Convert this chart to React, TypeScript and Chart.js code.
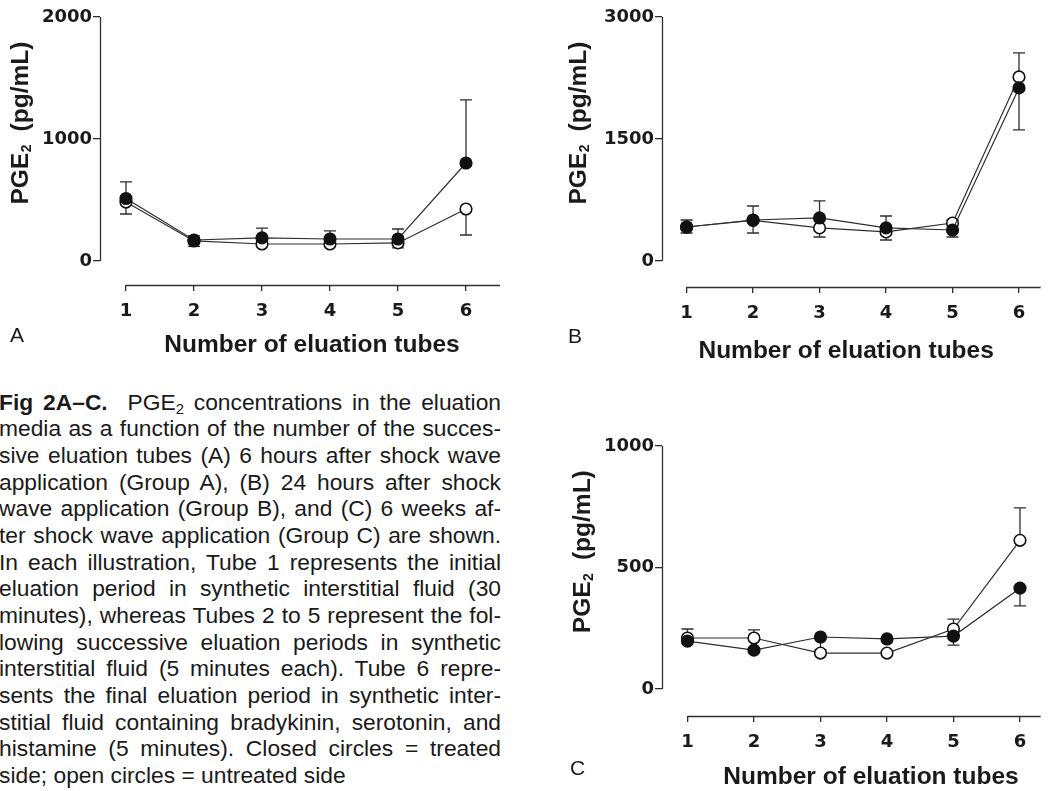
import React, { useEffect, useRef } from "react";
import { Chart, registerables } from "chart.js";
Chart.register(...registerables);

// ---------- shared ----------
const tubeNumbers = [1, 2, 3, 4, 5, 6];
const tubeLabels = ["1", "2", "3", "4", "5", "6"];
const xAxisTitle = "Number of eluation tubes";

// ---------- Panel A (6 hours) ----------
const aTicks = [0, 1000, 2000];
const aTreated = [512, 172, 189, 180, 180, 803];
const aTreatedUp = [648, 205, 270, 246, 262, 1320];
const aTreatedDown = [null, null, null, null, null, null];
const aUntreated = [483, 164, 139, 139, 148, 426];
const aUntreatedUp = [null, null, null, null, null, null];
const aUntreatedDown = [385, 120, null, null, 107, 213];

// ---------- Panel B (24 hours) ----------
const bTicks = [0, 1500, 3000];
const bTreated = [418, 504, 529, 406, 381, 2128];
const bTreatedUp = [504, 676, 738, 553, null, null];
const bTreatedDown = [344, null, null, null, 295, 1611];
const bUntreated = [418, 500, 406, 357, 467, 2263];
const bUntreatedUp = [null, null, null, null, 504, 2558];
const bUntreatedDown = [null, 344, 295, 258, null, null];

// ---------- Panel C (6 weeks) ----------
const cTicks = [0, 500, 1000];
const cTreated = [197, 160, 214, 206, 218, 415];
const cTreatedUp = [null, null, null, null, null, null];
const cTreatedDown = [null, null, 162, null, 181, 342];
const cUntreated = [210, 210, 148, 148, 247, 612];
const cUntreatedUp = [247, 243, null, null, 288, 745];
const cUntreatedDown = [null, null, null, null, null, null];

const captionLines = [
  "media as a function of the number of the succes-",
  "sive eluation tubes (A) 6 hours after shock wave",
  "application (Group A), (B) 24 hours after shock",
  "wave application (Group B), and (C) 6 weeks af-",
  "ter shock wave application (Group C) are shown.",
  "In each illustration, Tube 1 represents the initial",
  "eluation period in synthetic interstitial fluid (30",
  "minutes), whereas Tubes 2 to 5 represent the fol-",
  "lowing successive eluation periods in synthetic",
  "interstitial fluid (5 minutes each). Tube 6 repre-",
  "sents the final eluation period in synthetic inter-",
  "stitial fluid containing bradykinin, serotonin, and",
  "histamine (5 minutes). Closed circles = treated",
];
const captionLast = "side; open circles = untreated side";

const INK = "#1a1a1a";
const LINE = "#2e2e2e";
const TICK_FONT = { family: "DejaVu Sans", weight: "bold" as const, size: 18 };
const TITLE_FONT = "bold 24.5px 'Liberation Sans', Arial, sans-serif";

type Series = {
  values: number[];
  up: (number | null)[];
  down: (number | null)[];
  filled: boolean;
};

type PanelCfg = {
  left: number;
  top: number;
  width: number;
  height: number;
  padTop: number;
  padRight: number;
  yWidth: number;
  xHeight: number;
  yTicks: number[];
  yMin: number;
  xMin: number;
  xMax: number;
  xTitleAt: number;
  xTitleDy: number;
  yTitleDx: number;
  series: Series[];
};

const prismPlugin = {
  id: "prism",
  beforeDatasetsDraw(chart: any, _args: any, opts: any) {
    const { ctx, chartArea } = chart;
    const x = chart.scales.x;
    const y = chart.scales.y;
    ctx.save();
    ctx.strokeStyle = LINE;
    ctx.lineWidth = 1.3;
    // detached y axis
    const ax = Math.round(chartArea.left) + 0.5;
    ctx.beginPath();
    ctx.moveTo(ax, y.getPixelForValue(opts.yBottom));
    ctx.lineTo(ax, y.getPixelForValue(opts.yTop));
    ctx.stroke();
    // detached x axis
    const ay = Math.round(chartArea.bottom) + 0.5;
    ctx.beginPath();
    ctx.moveTo(x.getPixelForValue(opts.xStart), ay);
    ctx.lineTo(chartArea.right, ay);
    ctx.stroke();
    // error bars
    ctx.lineWidth = 1.3;
    (opts.series as Series[]).forEach((s) => {
      [s.up, s.down].forEach((ends) => {
        ends.forEach((end, i) => {
          if (end === null || end === undefined) return;
          const px = x.getPixelForValue(tubeNumbers[i]);
          const y0 = y.getPixelForValue(s.values[i]);
          const y1 = y.getPixelForValue(end);
          ctx.beginPath();
          ctx.moveTo(px, y0);
          ctx.lineTo(px, y1);
          ctx.moveTo(px - 6, y1);
          ctx.lineTo(px + 6, y1);
          ctx.stroke();
        });
      });
    });
    ctx.restore();
  },
  afterDraw(chart: any, _args: any, opts: any) {
    const { ctx, chartArea } = chart;
    const x = chart.scales.x;
    const y = chart.scales.y;
    ctx.save();
    ctx.fillStyle = INK;
    // x title
    ctx.font = TITLE_FONT;
    ctx.textAlign = "center";
    ctx.textBaseline = "middle";
    ctx.fillText(opts.xTitle, x.getPixelForValue(opts.xTitleAt), chartArea.bottom + opts.xTitleDy);
    // y title: PGE2 (pg/mL), rotated
    const cx = chartArea.left - opts.yTitleDx;
    const cy = y.getPixelForValue(opts.yTop * 0.565);
    ctx.translate(cx, cy);
    ctx.rotate(-Math.PI / 2);
    ctx.textAlign = "left";
    ctx.textBaseline = "middle";
    const main1 = "PGE";
    const sub = "2";
    const main2 = "  (pg/mL)";
    ctx.font = TITLE_FONT;
    const w1 = ctx.measureText(main1).width;
    const w3 = ctx.measureText(main2).width;
    ctx.font = "bold 14px 'Liberation Sans', Arial, sans-serif";
    const w2 = ctx.measureText(sub).width;
    const total = w1 + w2 + w3;
    const start = -total / 2;
    ctx.font = TITLE_FONT;
    ctx.fillText(main1, start, 0);
    ctx.font = "bold 14px 'Liberation Sans', Arial, sans-serif";
    ctx.fillText(sub, start + w1 + 0.5, 6);
    ctx.font = TITLE_FONT;
    ctx.fillText(main2, start + w1 + w2, 0);
    ctx.restore();
  },
};

function Panel({ cfg }: { cfg: PanelCfg }) {
  const ref = useRef<HTMLCanvasElement | null>(null);
  useEffect(() => {
    if (!ref.current) return;
    const yTop = cfg.yTicks[cfg.yTicks.length - 1];
    const datasets = cfg.series.map((s) => ({
      data: tubeNumbers.map((t, i) => ({ x: t, y: s.values[i] })),
      borderColor: LINE,
      borderWidth: 1.2,
      pointRadius: 5.8,
      pointHoverRadius: 5.8,
      pointBackgroundColor: s.filled ? "#111" : "#fff",
      pointBorderColor: "#111",
      pointBorderWidth: 1.6,
      tension: 0,
      fill: false,
    }));
    const chart = new Chart(ref.current, {
      type: "line",
      data: { datasets },
      plugins: [prismPlugin as any],
      options: {
        animation: false,
        responsive: false,
        devicePixelRatio: 1,
        events: [],
        layout: { padding: { top: cfg.padTop, right: cfg.padRight, left: 0, bottom: 0 } },
        plugins: {
          legend: { display: false },
          tooltip: { enabled: false },
          prism: {
            yBottom: cfg.yTicks[0],
            yTop,
            xStart: tubeNumbers[0],
            series: cfg.series,
            xTitle: xAxisTitle,
            xTitleAt: cfg.xTitleAt,
            xTitleDy: cfg.xTitleDy,
            yTitleDx: cfg.yTitleDx,
          },
        } as any,
        scales: {
          x: {
            type: "linear",
            min: cfg.xMin,
            max: cfg.xMax,
            afterBuildTicks: (s: any) => {
              s.ticks = tubeNumbers.map((v) => ({ value: v }));
            },
            afterFit: (s: any) => {
              s.height = cfg.xHeight;
            },
            ticks: {
              autoSkip: false,
              maxRotation: 0,
              padding: 10,
              color: INK,
              font: TICK_FONT,
              callback: (_v: any, i: number) => tubeLabels[i],
            },
            grid: { drawOnChartArea: false, drawTicks: true, tickLength: 6, color: LINE, lineWidth: 1.3 },
            border: { display: false },
          },
          y: {
            type: "linear",
            min: cfg.yMin,
            max: yTop,
            afterBuildTicks: (s: any) => {
              s.ticks = cfg.yTicks.map((v) => ({ value: v }));
            },
            afterFit: (s: any) => {
              s.width = cfg.yWidth;
            },
            ticks: { padding: 1, color: INK, font: TICK_FONT, callback: (v: any) => String(v) },
            grid: { drawOnChartArea: false, drawTicks: true, tickLength: 7, color: LINE, lineWidth: 1.3 },
            border: { display: false },
          },
        },
      } as any,
    });
    return () => chart.destroy();
  }, [cfg]);
  return (
    <canvas
      ref={ref}
      width={cfg.width}
      height={cfg.height}
      style={{ position: "absolute", left: cfg.left, top: cfg.top, width: cfg.width, height: cfg.height }}
    />
  );
}

const panelA: PanelCfg = {
  left: 0, top: 0, width: 520, height: 360, padTop: 17, padRight: 20, yWidth: 100, xHeight: 75,
  yTicks: aTicks, yMin: -197, xMin: 0.618, xMax: 6.5, xTitleAt: 3.735, xTitleDy: 60, yTitleDx: 79,
  series: [
    { values: aTreated, up: aTreatedUp, down: aTreatedDown, filled: true },
    { values: aUntreated, up: aUntreatedUp, down: aUntreatedDown, filled: false },
  ],
};
const panelB: PanelCfg = {
  left: 530, top: 0, width: 518, height: 370, padTop: 17, padRight: 0, yWidth: 132, xHeight: 83,
  yTicks: bTicks, yMin: -320, xMin: 0.63, xMax: 6.325, xTitleAt: 3.4, xTitleDy: 64, yTitleDx: 83,
  series: [
    { values: bTreated, up: bTreatedUp, down: bTreatedDown, filled: true },
    { values: bUntreated, up: bUntreatedUp, down: bUntreatedDown, filled: false },
  ],
};
const panelC: PanelCfg = {
  left: 530, top: 420, width: 518, height: 371, padTop: 26, padRight: 0, yWidth: 132, xHeight: 75,
  yTicks: cTicks, yMin: -111, xMin: 0.617, xMax: 6.31, xTitleAt: 3.76, xTitleDy: 61, yTitleDx: 79,
  series: [
    { values: cTreated, up: cTreatedUp, down: cTreatedDown, filled: true },
    { values: cUntreated, up: cUntreatedUp, down: cUntreatedDown, filled: false },
  ],
};

const lineStyle: React.CSSProperties = {
  height: 26.67,
  lineHeight: "26.67px",
  whiteSpace: "nowrap",
  textAlign: "justify",
  textAlignLast: "justify" as any,
};

const letterStyle = (left: number, top: number): React.CSSProperties => ({
  position: "absolute",
  left,
  top,
  fontFamily: "'Liberation Sans', Arial, sans-serif",
  fontSize: 21,
  lineHeight: "21px",
  color: INK,
});

export default function App() {
  return (
    <div
      style={{
        position: "absolute",
        left: 0,
        top: 0,
        width: 1048,
        height: 791,
        background: "#fff",
        overflow: "hidden",
      }}
    >
      <Panel cfg={panelA} />
      <Panel cfg={panelB} />
      <Panel cfg={panelC} />
      <div style={letterStyle(10, 324)}>A</div>
      <div style={letterStyle(568, 325)}>B</div>
      <div style={letterStyle(570, 757)}>C</div>
      <div
        style={{
          position: "absolute",
          left: -1,
          top: 388.7,
          width: 502,
          fontFamily: "'Liberation Sans', Arial, sans-serif",
          fontSize: 22.8,
          color: INK,
        }}
      >
        <div style={lineStyle}>
          <b>Fig 2A–C.</b>&nbsp; PGE
          <sub style={{ fontSize: "0.65em", lineHeight: 0, verticalAlign: "-0.3em" }}>2</sub> concentrations in the
          eluation
        </div>
        {captionLines.map((t, i) => (
          <div key={i} style={lineStyle}>
            {t}
          </div>
        ))}
        <div style={{ ...lineStyle, textAlign: "left", textAlignLast: "left" as any }}>{captionLast}</div>
      </div>
    </div>
  );
}
